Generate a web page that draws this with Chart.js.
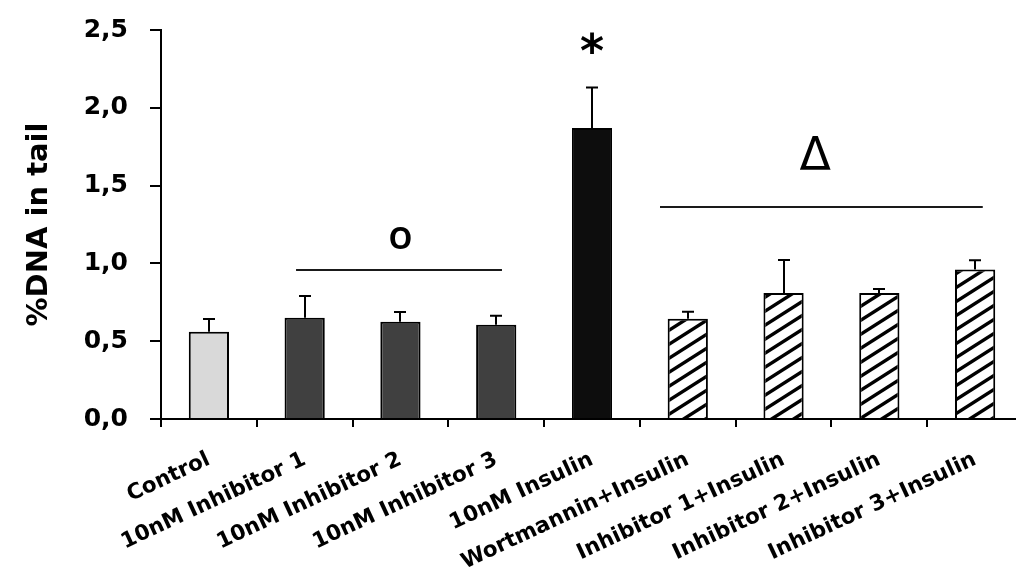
<!DOCTYPE html>
<html>
<head>
<meta charset="utf-8">
<script src="https://cdn.jsdelivr.net/npm/chart.js@4"></script>
<style>
  html, body { margin: 0; padding: 0; background: #fff; overflow: hidden; width: 1016px; height: 574px; }
  canvas { display: block; }
</style>
</head>
<body>
<canvas id="c" width="1030" height="574" style="width:1030px;height:574px"></canvas>
<script>
// ---- data ----
const categories = ['Control', '10nM Inhibitor 1', '10nM Inhibitor 2', '10nM Inhibitor 3', '10nM Insulin',
  'Wortmannin+Insulin', 'Inhibitor 1+Insulin', 'Inhibitor 2+Insulin', 'Inhibitor 3+Insulin'];
const means = [0.56, 0.65, 0.625, 0.605, 1.87, 0.645, 0.81, 0.81, 0.96];
const errors = [0.083, 0.14, 0.063, 0.058, 0.26, 0.045, 0.212, 0.026, 0.06];
const yTickValues = [0, 0.5, 1.0, 1.5, 2.0, 2.5];
const yTickLabels = ['0,0', '0,5', '1,0', '1,5', '2,0', '2,5'];
const groupKind = ['light', 'dark', 'dark', 'dark', 'black', 'hatch', 'hatch', 'hatch', 'hatch'];
// significance brackets: category-index span, y value of line
const brackets = [
  { from: 0.91, to: 3.06, y: 0.958 },
  { from: 4.71, to: 8.08, y: 1.364 }
];
// significance marks: category index, y value, text
const marks = [
  { x: 2.0, y: 1.14, text: 'o' },
  { x: 4.0, y: 2.39, text: '*' },
  { x: 6.33, y: 1.66, text: 'Δ' }
];

// ---- hatch pattern ----
function makeHatch() {
  const W = 22, H = 14;
  const p = document.createElement('canvas');
  p.width = W; p.height = H;
  const g = p.getContext('2d');
  g.fillStyle = '#ffffff';
  g.fillRect(0, 0, W, H);
  g.strokeStyle = '#000000';
  g.lineWidth = 3.4;
  for (let k = -2; k <= 2; k++) {
    g.beginPath();
    g.moveTo(-W, H + H + k * H);
    g.lineTo(2 * W, H - 2 * H + k * H);
    g.stroke();
  }
  return document.getElementById('c').getContext('2d').createPattern(p, 'repeat');
}
const hatch = makeHatch();
const fillFor = { light: '#d9d9d9', dark: '#404040', black: '#0d0d0d', hatch: hatch };

// ---- plugins ----
const errorBarPlugin = {
  id: 'errorBars',
  afterDatasetsDraw(chart) {
    const ctx = chart.ctx;
    const meta = chart.getDatasetMeta(0);
    const ys = chart.scales.y;
    ctx.save();
    ctx.strokeStyle = '#000';
    ctx.lineWidth = 2;
    meta.data.forEach((bar, i) => {
      const x = Math.round(bar.x);
      const yTop = ys.getPixelForValue(means[i]);
      const yErr = ys.getPixelForValue(means[i] + errors[i]);
      ctx.beginPath();
      ctx.moveTo(x, yTop);
      ctx.lineTo(x, yErr);
      ctx.moveTo(x - 6, yErr);
      ctx.lineTo(x + 6, yErr);
      ctx.stroke();
    });
    ctx.restore();
  }
};

const annotPlugin = {
  id: 'annot',
  afterDraw(chart) {
    const ctx = chart.ctx;
    const xs = chart.scales.x, ys = chart.scales.y;
    ctx.save();
    ctx.strokeStyle = '#1a1a1a';
    ctx.lineWidth = 2;
    brackets.forEach(b => {
      const y = Math.round(ys.getPixelForValue(b.y));
      ctx.beginPath();
      ctx.moveTo(xs.getPixelForValue(b.from), y);
      ctx.lineTo(xs.getPixelForValue(b.to), y);
      ctx.stroke();
    });
    ctx.fillStyle = '#000';
    ctx.textAlign = 'center';
    ctx.textBaseline = 'middle';
    marks.forEach(m => {
      const x = xs.getPixelForValue(m.x), y = ys.getPixelForValue(m.y);
      if (m.text === '*') {
        ctx.font = 'bold 46px "DejaVu Sans"';
        ctx.fillText(m.text, x, y + 8);
      } else if (m.text === 'Δ') {
        ctx.font = '46px "DejaVu Sans"';
        ctx.fillText(m.text, x, y - 3);
      } else {
        ctx.font = '600 40px "Open Sans"';
        ctx.fillText(m.text, x, y - 4);
      }
    });
    ctx.restore();
  }
};

new Chart(document.getElementById('c'), {
  type: 'bar',
  data: {
    labels: categories,
    datasets: [{
      data: means,
      backgroundColor: groupKind.map(k => fillFor[k]),
      borderColor: '#000',
      borderWidth: 2,
      borderSkipped: 'bottom',
      barPercentage: 0.42,
      categoryPercentage: 1.0
    }]
  },
  options: {
    responsive: false,
    animation: false,
    devicePixelRatio: 1,
    layout: { padding: { top: 30, right: 7, left: 0, bottom: 0 } },
    plugins: { legend: { display: false }, tooltip: { enabled: false } },
    scales: {
      x: {
        grid: { display: true, drawOnChartArea: false, drawTicks: true, tickLength: 8, offset: true, color: '#000', lineWidth: 2 },
        border: { display: true, color: '#000', width: 2 },
        ticks: {
          color: '#000',
          font: { family: '"DejaVu Sans"', weight: 'bold', size: 21.5 },
          minRotation: 25, maxRotation: 25,
          autoSkip: false,
          padding: 20
        },
        afterFit(scale) { scale.height = 155; }
      },
      y: {
        min: 0, max: 2.5,
        afterBuildTicks(scale) { scale.ticks = yTickValues.map(v => ({ value: v })); },
        grid: { display: true, drawOnChartArea: false, drawTicks: true, tickLength: 11, color: '#000', lineWidth: 2 },
        border: { display: true, color: '#000', width: 2 },
        ticks: {
          color: '#000',
          font: { family: '"DejaVu Sans"', weight: 'bold', size: 25 },
          padding: 22,
          callback: (v, i) => yTickLabels[i]
        },
        title: {
          display: true,
          text: '%DNA in tail',
          color: '#000',
          font: { family: '"DejaVu Sans"', weight: 'bold', size: 29 },
          padding: { top: 22, bottom: 0 }
        },
        afterFit(scale) {
          scale.width = 161;
          scale.paddingTop = 10;
          scale.paddingBottom = 10;
        }
      }
    }
  },
  plugins: [errorBarPlugin, annotPlugin]
});
</script>
</body>
</html>
